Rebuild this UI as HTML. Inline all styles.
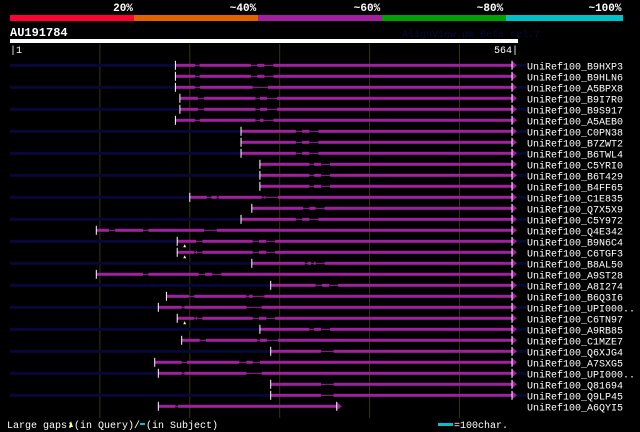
<!DOCTYPE html>
<html><head><meta charset="utf-8"><style>
body{margin:0;background:#000;width:640px;height:432px;overflow:hidden}
svg{display:block;font-family:"Liberation Mono",monospace}
</style></head><body>
<svg id="c" width="640" height="432" viewBox="0 0 640 432">
<rect x="0" y="0" width="640" height="432" fill="#000"/>
<g>
<rect x="10" y="15" width="124" height="6" fill="#ff0033"/>
<rect x="134" y="15" width="124" height="6" fill="#e36200"/>
<rect x="258" y="15" width="124" height="6" fill="#a020a0"/>
<rect x="382" y="15" width="124" height="6" fill="#00a000"/>
<rect x="506" y="15" width="117" height="6" fill="#00c0c8"/>
<g fill="#fff" font-size="11" font-weight="bold" text-anchor="middle">
<text x="123" y="11">20%</text><text x="243" y="11">~40%</text><text x="367" y="11">~60%</text><text x="490" y="11">~80%</text><text x="605" y="11">~100%</text>
</g></g>
<text x="10" y="36" fill="#fff" font-size="12" font-weight="bold">AU191784</text>
<text x="402" y="37" fill="#0a0a3a" font-size="10">AlignView.pm Beta rel.7</text>
<rect x="10" y="39" width="508" height="4" fill="#fff"/>
<text x="10" y="53" fill="#fff" font-size="10">|1</text>
<text x="518" y="53" fill="#fff" font-size="10" text-anchor="end">564|</text>
<g id="grid"></g><g id="rows"></g>
<g font-size="10" fill="#fff">
<text x="7" y="428">Large gaps:</text>
<polygon points="69,427 71,421 73,427" fill="#ffff80"/>
<text x="74" y="428">(in Query)/</text>
<rect x="140" y="423" width="5" height="2" fill="#00c0c8"/>
<text x="146" y="428">(in Subject)</text>
<rect x="438" y="423" width="15" height="3" fill="#00c0c8"/>
<text x="454" y="428">=100char.</text>
</g>
</svg>
<script>
const names=["B9HXP3","B9HLN6","A5BPX8","B9I7R0","B9S917","A5AEB0","C0PN38","B7ZWT2","B6TWL4","C5YRI0","B6T429","B4FF65","C1E835","Q7X5X9","C5Y972","Q4E342","B9N6C4","C6TGF3","B8AL50","A9ST28","A8I274","B6Q3I6","UPI000..","C6TN97","A9RB85","C1MZE7","Q6XJG4","A7SXG5","UPI000..","Q81694","Q9LP45","A6QYI5"];
const navyLeft=[1,0,1,0,1,0,1,0,1,0,1,0,1,0,1,0,1,0,1,0,1,0,1,0,1,0,1,0,1,0,1,0];
const segs=[
[[184,206],[211,268],[275,283],[293,564]],
[[184,206],[211,268],[275,283],[293,564]],
[[184,206],[211,270],[287,564]],
[[189,209],[216,273],[278,286],[297,564]],
[[189,209],[216,273],[278,286],[297,564]],
[[184,206],[211,273],[278,282],[293,564]],
[[257,318],[325,333],[343,564]],
[[257,318],[325,333],[343,564]],
[[257,318],[325,333],[343,564]],
[[278,333],[338,346],[356,564]],
[[278,333],[338,346],[356,564]],
[[278,333],[338,346],[356,564]],
[[200,219],[224,230],[232,280],[283,284],[298,564]],
[[269,326],[333,340],[350,564]],
[[257,318],[325,333],[343,564]],
[[96,110],[117,148],[154,216],[230,564]],
[[186,207],[214,270],[277,285],[295,564]],
[[186,205],[207,208],[214,270],[277,285],[295,564]],
[[269,328],[331,335],[338,340],[350,564]],
[[96,148],[154,210],[217,225],[235,564]],
[[290,340],[347,355],[365,564]],
[[174,199],[205,263],[266,270],[283,564]],
[[165,191],[194,263],[280,564]],
[[186,205],[207,208],[214,270],[277,285],[295,564]],
[[278,333],[338,346],[356,564]],
[[191,211],[218,275],[278,286],[298,564]],
[[290,346],[360,564]],
[[161,191],[197,255],[263,270],[278,564]],
[[165,191],[194,263],[280,564]],
[[290,346],[360,564]],
[[290,346],[360,564]],
[[165,184],[187,369]]
];
const qGap=[16,17,23];
const gridTicks=[100,200,300,400,500];
const X=r=>10+r*507/564;
const RowY=i=>65.3+i*11;
const NS="http://www.w3.org/2000/svg";
function mk(p,t,a){const e=document.createElementNS(NS,t);for(const k in a)e.setAttribute(k,a[k]);p.appendChild(e);return e;}
const grid=document.getElementById('grid');
gridTicks.forEach(t=>{
 const l=mk(grid,'rect',{x:X(t)-0.5,y:44,width:1,height:374,fill:'#353510'});
 
 
});
const rows=document.getElementById('rows');
names.forEach((n,i)=>{
 const y=RowY(i);const s=segs[i];const st=s[0][0];const en=s[s.length-1][1];
 const g=mk(rows,'g',{});
 
 
 if(navyLeft[i]){mk(g,'rect',{x:10,y:y-1.5,width:X(st)-10,height:3,fill:'#07073a'});mk(g,'rect',{x:X(en)+1,y:y-1.5,width:8,height:3,fill:'#07073a'});}
 mk(g,'rect',{x:X(st),y:y-0.5,width:X(en)-X(st)-5,height:1,fill:'#a020a0'});
 s.forEach((sg,j)=>{
  let e=sg[1];let x2=X(e);if(j==s.length-1)x2-=5;
  const r=mk(g,'rect',{x:X(sg[0]),y:y-1.5,width:Math.max(1,x2-X(sg[0])),height:3,fill:'#a020a0'});
  
  
 });
 const xe=X(en);
 mk(g,'polygon',{points:`${xe-5},${y-4} ${xe},${y} ${xe-5},${y+4}`,fill:'#a020a0'});
 mk(g,'rect',{x:xe-5.5,y:y-4.5,width:1,height:9,fill:'#fff'});
 mk(g,'rect',{x:X(st)-0.5,y:y-4.5,width:1,height:9,fill:'#fff'});
 if(qGap.includes(i))mk(g,'polygon',{points:`${X(st)+6},${y+6} ${X(st)+7.5},${y+3} ${X(st)+9},${y+6}`,fill:'#ffff80'});
 if(i<31){const t=mk(g,'text',{x:527,y:y+4,fill:'#fff','font-size':10});t.textContent='UniRef100_'+n;
 
 }
 else{const t=mk(g,'text',{x:527,y:y+4,fill:'#fff','font-size':10});t.textContent='UniRef100_'+n;
 
 }
});
</script>
</body></html>
